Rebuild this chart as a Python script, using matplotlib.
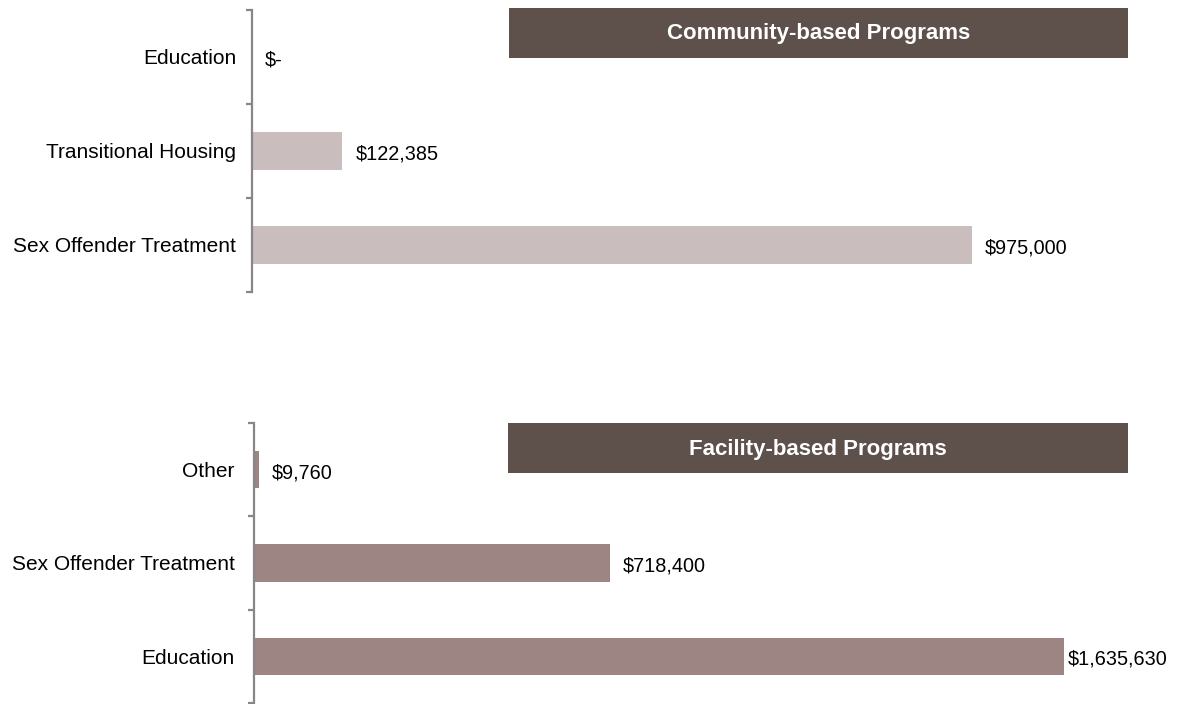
import matplotlib
matplotlib.use("Agg")
import matplotlib.pyplot as plt
from matplotlib.patches import Rectangle
import matplotlib.transforms as mtransforms

plt.rcParams['font.family'] = ['Liberation Sans', 'DejaVu Sans']

# Data
community_cats = ["Education", "Transitional Housing", "Sex Offender Treatment"]
community_vals = [0, 122385, 975000]
community_labels = ["$-", "$122,385", "$975,000"]

facility_cats = ["Other", "Sex Offender Treatment", "Education"]
facility_vals = [9760, 718400, 1635630]
facility_labels = ["$9,760", "$718,400", "$1,635,630"]

W, H = 1177, 704
fig = plt.figure(figsize=(W / 100, H / 100), dpi=100)

SPINE = "#878787"
BOX = "#5E504B"


def px_axes(left, top, width, height):
    return fig.add_axes([left / W, (H - top - height) / H, width / W, height / H])


def draw_panel(ax, cats, vals, labels, color, xmax, title, box, pad):
    n = len(cats)
    ys = list(range(n))
    ax.barh(ys, vals, height=0.4, color=color, zorder=2)
    ax.set_ylim(n - 0.5, -0.5)
    ax.set_xlim(0, xmax)
    for s in ["top", "right", "bottom"]:
        ax.spines[s].set_visible(False)
    ax.spines["left"].set_color(SPINE)
    ax.spines["left"].set_linewidth(1.6)
    ax.set_xticks([])
    ax.set_yticks(ys)
    ax.set_yticklabels(cats, fontsize=15)
    ax.tick_params(axis="y", which="major", length=0, pad=pad)
    ax.set_yticks([i - 0.5 for i in range(n + 1)], minor=True)
    ax.tick_params(axis="y", which="minor", length=4, width=1.6, color=SPINE)
    trans = mtransforms.offset_copy(ax.transData, fig=fig, x=13, y=-3, units="dots")
    texts = []
    for y, v, lab in zip(ys, vals, labels):
        t = ax.text(v, y, lab, transform=trans, ha="left", va="center", fontsize=14.3)
        texts.append(t)
    # title box
    bx0, by0, bx1, by1 = box
    fig.add_artist(Rectangle((bx0 / W, (H - by1) / H), (bx1 - bx0) / W, (by1 - by0) / H,
                             transform=fig.transFigure, facecolor=BOX, edgecolor="none"))
    fig.text((bx0 + bx1) / 2 / W, (H - (by0 + by1) / 2 - 1) / H, title, color="white",
             fontsize=16, fontweight="bold", ha="center", va="center")
    return texts


ax1 = px_axes(252, 10, 886, 282)
draw_panel(ax1, community_cats, community_vals, community_labels, "#C9BDBD",
           1200000, "Community-based Programs", (509, 8, 1128, 58), pad=11.5)

ax2 = px_axes(254, 423, 891, 280)
texts2 = draw_panel(ax2, facility_cats, facility_vals, facility_labels, "#9C8583",
                    1800000, "Facility-based Programs", (508, 423, 1128, 473), pad=14)

# keep value labels within the plot area (as the original does)
fig.canvas.draw()
r = fig.canvas.get_renderer()
limit = 1168
for t in texts2:
    bb = t.get_window_extent(r)
    if bb.x1 > limit:
        shift = bb.x1 - limit
        t.set_transform(t.get_transform() + mtransforms.Affine2D().translate(-shift, 0))

fig.savefig("out.png", dpi=100)
